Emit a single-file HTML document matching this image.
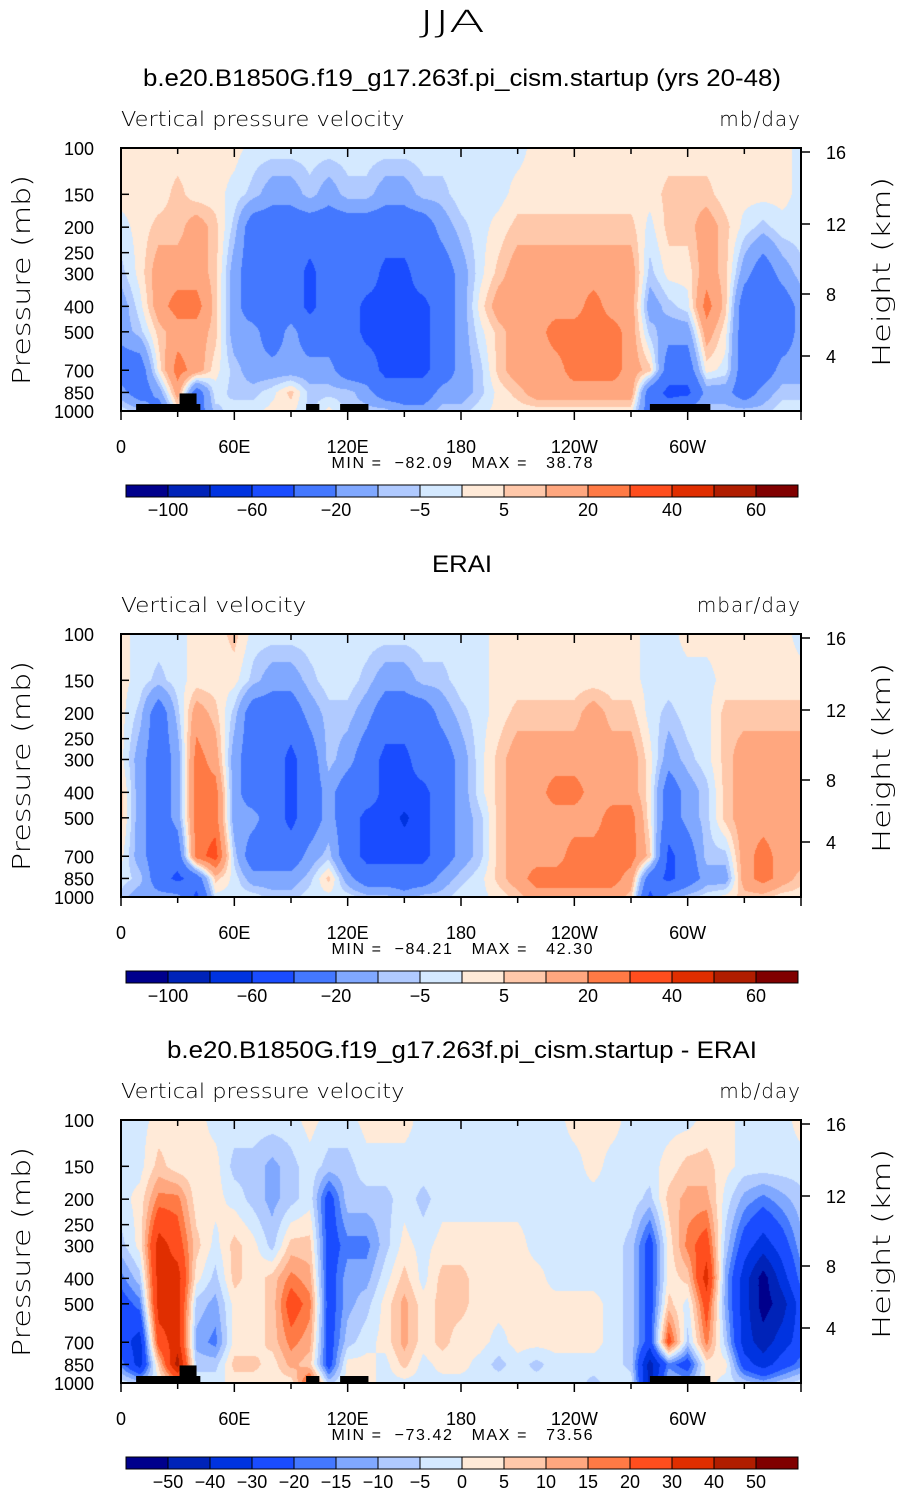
<!DOCTYPE html>
<html><head><meta charset="utf-8"><style>
body{margin:0;background:#fff;width:905px;height:1493px;position:relative;overflow:hidden;font-family:"Liberation Sans",sans-serif}
canvas{position:absolute}
svg{position:absolute;left:0;top:0}
</style></head><body>
<svg id="svg" width="905" height="1493"></svg>
<script>
const lons=[0,10,20,30,40,50,60,70,80,90,100,110,120,130,140,150,160,170,180,190,200,210,220,230,240,250,260,270,280,290,300,310,320,330,340,350,360];
const plevs=[100,150,200,300,400,500,700,850,1000];
const levelsA=[-100,-80,-60,-40,-20,-10,-5,0,5,10,20,30,40,50,60];
const levelsD=[-50,-40,-30,-20,-15,-10,-5,0,5,10,15,20,30,40,50];
const labelsA=['−100','−60','−20','−5','5','20','40','60'];
const labelsD=['−50','−40','−30','−20','−15','−10','−5','0','5','10','15','20','30','40','50'];
const colors=['#00008c','#0023b8','#0033e0','#1a4cff','#4478ff','#80a8ff','#b0caff','#d4e9ff','#ffead8','#ffc8aa','#ffa77f','#ff7a45','#ff4e1e','#e02e00','#b01d00','#800000'];
const model=[
[2,2,-2,-7,-15,-15,-30,-15,-2],[2,2,2,2,-2,-7,-30,-30,-7],[2,2,7,15,15,7,2,-15,-30],[2,7,7,15,25,15,25,15,2],
[2,2,15,15,25,15,15,-30,-30],[2,2,7,7,7,7,2,-2,-7],[2,-2,-7,-15,-15,-15,-7,-7,-2],[-2,-7,-30,-30,-30,-15,-15,-7,-2],
[-2,-15,-30,-30,-30,-30,-15,-2,2],[-2,-15,-30,-30,-30,-15,-15,7,2],[-2,-7,-30,-45,-45,-30,-15,-7,-7],[-2,-15,-30,-30,-30,-30,-15,-7,2],
[-2,-7,-30,-30,-30,-30,-30,-7,-7],[-2,-7,-30,-30,-45,-45,-30,-15,-7],[-2,-15,-30,-45,-45,-45,-45,-30,-7],[-2,-15,-30,-45,-45,-45,-45,-30,-15],
[-2,-7,-30,-30,-45,-45,-45,-30,-15],[-2,-7,-15,-30,-30,-30,-30,-15,-7],[-2,-2,-7,-15,-15,-15,-15,-15,-7],[-2,-2,-2,-2,2,-2,-7,-7,-2],
[-2,-2,2,7,15,7,7,2,2],[-2,2,7,15,15,15,15,7,2],[2,2,7,15,15,15,15,15,2],[2,2,7,15,15,25,15,15,2],
[2,2,7,15,15,25,25,15,2],[2,2,7,15,25,25,25,15,2],[2,2,7,15,15,25,25,15,2],[2,2,7,15,15,15,15,15,2],
[2,2,-2,-7,-15,-7,7,-30,-30],[2,7,7,2,-7,-15,-30,-45,-30],[2,7,7,2,-2,-15,-30,-45,-15],[2,7,15,15,25,15,2,-15,-7],
[2,2,7,7,7,2,-2,-15,-7],[2,2,-2,-15,-30,-30,-30,-30,-7],[2,2,-7,-30,-30,-30,-30,-15,-7],[2,2,-2,-15,-30,-30,-15,-7,-2],
[-2,-2,-2,-7,-15,-15,-15,-7,-2]];
const erai=[
[2,2,2,2,7,7,2,-2,-7],[-2,-2,-7,-15,-15,-15,-15,-7,-15],[-2,-7,-30,-30,-30,-30,-30,-30,-15],[-2,-2,-7,-15,-15,-15,-30,-45,-15],
[2,2,15,25,25,25,25,-30,-45],[2,2,7,15,25,25,35,7,-2],[7,2,-7,-15,-15,-15,-7,-2,-2],[-2,-7,-30,-30,-30,-15,-30,-15,-2],
[-2,-15,-30,-30,-30,-30,-30,-15,-7],[-2,-15,-30,-45,-45,-45,-30,-15,-7],[-2,-7,-15,-30,-30,-30,-15,-7,-2],[-2,-2,-7,-7,-15,-15,-7,7,-2],
[-2,-2,-7,-15,-30,-30,-30,-15,-2],[-2,-7,-15,-30,-30,-45,-45,-30,-7],[-2,-15,-30,-45,-45,-45,-45,-30,-7],[-2,-15,-30,-45,-45,-65,-45,-30,-15],
[-2,-7,-30,-30,-45,-45,-45,-30,-7],[-2,-7,-15,-30,-30,-30,-30,-15,-7],[-2,-2,-7,-15,-15,-15,-15,-7,-2],[-2,-2,-2,-2,-2,-7,-7,-2,-2],
[2,2,2,7,7,7,7,7,2],[2,2,7,15,15,15,15,15,7],[2,2,7,15,15,15,15,25,15],[2,2,7,15,25,15,15,25,15],
[2,2,7,15,25,15,25,25,15],[2,2,15,15,15,15,25,25,15],[2,2,7,15,15,25,25,25,15],[2,2,7,15,15,25,25,15,7],
[-2,-2,-2,2,2,2,7,-30,-45],[-2,-2,-7,-15,-30,-30,-45,-45,-15],[2,-2,-2,-7,-15,-15,-30,-30,-7],[2,-2,-2,-2,-7,-7,-7,-15,-2],
[2,2,7,7,7,7,-7,-15,2],[2,2,7,15,15,15,15,15,7],[2,2,7,15,15,15,25,25,7],[2,2,7,15,15,15,15,15,2],
[-2,2,7,15,15,15,15,7,2]];
const diff=[
[-2,-2,-2,-7,-17,-25,-25,-17,-2],[-2,-2,2,2,-7,-17,-35,-35,-7],[2,7,17,35,35,35,25,7,-2],[2,2,17,25,35,35,35,45,12],
[2,2,2,7,2,-7,-12,-7,-2],[-2,2,2,-2,-7,-12,-17,-7,-2],[-2,-7,-2,7,7,2,2,7,2],[-2,-7,-7,2,2,2,2,7,2],
[-2,-12,-12,-7,7,7,7,2,2],[-2,-7,-7,7,17,25,17,12,2],[2,-2,-2,7,12,17,12,7,25],[-2,-7,-25,-25,-25,-25,-25,-25,-7],
[-2,-7,-7,-17,-12,-12,-7,2,2],[2,-2,-7,-17,-12,-7,-2,2,2],[2,-2,-7,-7,-2,2,2,-2,-2],[2,-2,-2,2,7,12,12,7,-2],
[-2,-2,-7,-2,-2,2,2,-2,-2],[-2,-2,-2,2,7,7,7,2,-2],[-2,-2,-2,2,7,7,2,2,-2],[-2,-2,-2,2,2,2,2,-2,-2],
[-2,-2,-2,2,2,2,-2,-7,-2],[-2,-2,-2,2,2,2,2,-2,-2],[-2,-2,-2,-2,2,2,2,-7,-2],[-2,-2,-2,-2,-2,2,2,-2,-2],
[2,-2,-2,-2,-2,2,2,-2,-2],[2,2,-2,-2,-2,2,2,-2,-7],[2,-2,-2,-2,-2,-2,-2,-2,-2],[-2,-2,-2,-7,-7,-7,-7,-7,-2],
[-2,-2,-7,-25,-25,-25,-25,-45,-45],[-2,2,7,2,2,7,25,-17,-7],[-2,7,12,17,7,-2,-7,-25,-12],[2,7,12,25,35,25,17,2,2],
[2,2,-2,-7,-12,-12,-7,2,-2],[-2,-2,-12,-25,-35,-35,-35,-25,-7],[-2,-2,-17,-35,-55,-55,-45,-35,-12],[-2,-2,-12,-25,-35,-45,-35,-25,-7],
[2,-2,-7,-12,-17,-25,-25,-17,-2]];
const landLon=[[8,42],[31,40],[98,105],[116,131],[280,312]];
const landTop=[1000,850,1000,1000,1000];

const svg=document.getElementById('svg');
const NS='http://www.w3.org/2000/svg';
const L=121,R=801,W=680,H=263;
const xS=lon=>L+lon/360*W;
const yS=(top,p)=>top+H*Math.log10(p/100);
function el(tag,attrs,txt,name,inter){const e=document.createElementNS(NS,tag);for(const k in attrs)e.setAttribute(k,attrs[k]);if(txt!==undefined)e.textContent=txt;


svg.appendChild(e);return e;}
function txt(x,y,s,size,anchor,name,extra){const a=Object.assign({x:x,y:y,'font-size':size,'text-anchor':anchor||'start','font-family':'Liberation Sans, sans-serif',fill:'#000'},extra||{});return el('text',a,s,name);}

el('text',{x:452,y:32,'font-size':30,'text-anchor':'middle','font-family':'DejaVu Sans, sans-serif','font-weight':'200',fill:'#000','textLength':66,'lengthAdjust':'spacingAndGlyphs'},'JJA','figure-title');

function classify(v,lv){let c=0;while(c<lv.length&&v>=lv[c])c++;return c;}
function panel(top,data,lv,title,titleLen,left,right,mn,mx,cbLabels,cbAllBounds,pid){
  txt(462,top-62,title,24,'middle',pid+'-title',{textLength:titleLen,lengthAdjust:'spacingAndGlyphs'});
  txt(121,top-22,left,20,'start',pid+'-variable-label',{'font-family':'DejaVu Sans, sans-serif','font-weight':'200',textLength:left.length*10.9,lengthAdjust:'spacingAndGlyphs'});
  txt(801,top-22,right,20,'end',pid+'-units-label',{'font-family':'DejaVu Sans, sans-serif','font-weight':'200','letter-spacing':'1'});
  const cv=document.createElement('canvas');cv.width=W;cv.height=H;cv.style.left=L+'px';cv.style.top=top+'px';
  
  
  document.body.insertBefore(cv,svg);
  const ctx=cv.getContext('2d');const img=ctx.createImageData(W,H);
  const rgb=colors.map(c=>[parseInt(c.slice(1,3),16),parseInt(c.slice(3,5),16),parseInt(c.slice(5,7),16)]);
  const lp=plevs.map(p=>Math.log10(p/100));
  for(let py=0;py<H;py++){const l=(py+0.5)/H;let j=0;while(j<lp.length-2&&l>lp[j+1])j++;const fy=Math.min(1,Math.max(0,(l-lp[j])/(lp[j+1]-lp[j])));
    for(let px=0;px<W;px++){const lon=(px+0.5)/W*360;let i=Math.min(lons.length-2,Math.floor(lon/10));const fx=(lon-lons[i])/10;
      const v=(1-fx)*(1-fy)*data[i][j]+fx*(1-fy)*data[i+1][j]+(1-fx)*fy*data[i][j+1]+fx*fy*data[i+1][j+1];
      const c=rgb[classify(v,lv)];const k=(py*W+px)*4;img.data[k]=c[0];img.data[k+1]=c[1];img.data[k+2]=c[2];img.data[k+3]=255;}}
  ctx.putImageData(img,0,0);
  if(pid!=='erai'){landLon.forEach((b,i)=>{const yt=landTop[i]===850?yS(top,850)+1:top+H-7;el('rect',{x:xS(b[0]),y:yt,width:xS(b[1])-xS(b[0]),height:top+H-yt,fill:'#000'},undefined,pid+'-land-mask');});}
  el('rect',{x:L,y:top,width:W,height:H,fill:'none',stroke:'#000','stroke-width':2},undefined,pid+'-plot-frame');
  [100,150,200,250,300,400,500,700,850,1000].forEach(p=>{const y=yS(top,p);
    el('line',{x1:L,x2:L+8,y1:y,y2:y,stroke:'#000','stroke-width':1.5},undefined,pid+'-y-tick');
    txt(94,y+7,String(p),18,'end',pid+'-y-tick-label');});
  [[16,4],[12,76],[8,146],[4,208]].forEach(h=>{el('line',{x1:R,x2:R+9,y1:top+h[1],y2:top+h[1],stroke:'#000','stroke-width':1.5},undefined,pid+'-height-tick');
    txt(826,top+h[1]+7,String(h[0]),18,'start',pid+'-height-tick-label');});
  for(let lon=0;lon<=360;lon+=30){const x=xS(lon);const maj=lon%60===0;
    el('line',{x1:x,x2:x,y1:top,y2:top+(maj?9:6),stroke:'#000','stroke-width':1.5},undefined,pid+'-x-top-tick');
    el('line',{x1:x,x2:x,y1:top+H,y2:top+H+(maj?9:6),stroke:'#000','stroke-width':1.5},undefined,pid+'-x-tick');}
  ['0','60E','120E','180','120W','60W'].forEach((s,i)=>txt(xS(i*60),top+H+42,s,18,'middle',pid+'-x-tick-label'));
  el('text',{x:0,y:0,'font-size':25,'text-anchor':'middle','font-family':'DejaVu Sans, sans-serif','font-weight':'200',textLength:210,lengthAdjust:'spacingAndGlyphs',transform:`translate(30,${top+132}) rotate(-90)`},'Pressure (mb)',pid+'-y-axis-title');
  el('text',{x:0,y:0,'font-size':25,'text-anchor':'middle','font-family':'DejaVu Sans, sans-serif','font-weight':'200',textLength:190,lengthAdjust:'spacingAndGlyphs',transform:`translate(890,${top+124}) rotate(-90)`},'Height (km)',pid+'-height-axis-title');
  txt(462,top+HOFF,`MIN =  ${mn}   MAX =   ${mx}`,16,'middle',pid+'-min-max',{style:'white-space:pre',textLength:261,lengthAdjust:'spacing'});
  const cbT=top+337,cbL=126,cw=42;
  colors.forEach((c,i)=>el('rect',{x:cbL+i*cw,y:cbT,width:cw,height:12,fill:c,stroke:'#000','stroke-width':1},undefined,pid+'-colorbar-box'));
  cbLabels.forEach((s,i)=>{const b=cbAllBounds?i+1:2*i+1;txt(cbL+b*cw,cbT+31,s,18,'middle',pid+'-colorbar-label');});
}
const HOFF=320;
panel(148,model,levelsA,'b.e20.B1850G.f19_g17.263f.pi_cism.startup (yrs 20-48)',638,'Vertical pressure velocity','mb/day','−82.09','38.78',labelsA,false,'model');
panel(634,erai,levelsA,'ERAI',60,'Vertical velocity','mbar/day','−84.21','42.30',labelsA,false,'erai');
panel(1120,diff,levelsD,'b.e20.B1850G.f19_g17.263f.pi_cism.startup - ERAI',590,'Vertical pressure velocity','mb/day','−73.42','73.56',labelsD,true,'diff');
</script>
</body></html>
